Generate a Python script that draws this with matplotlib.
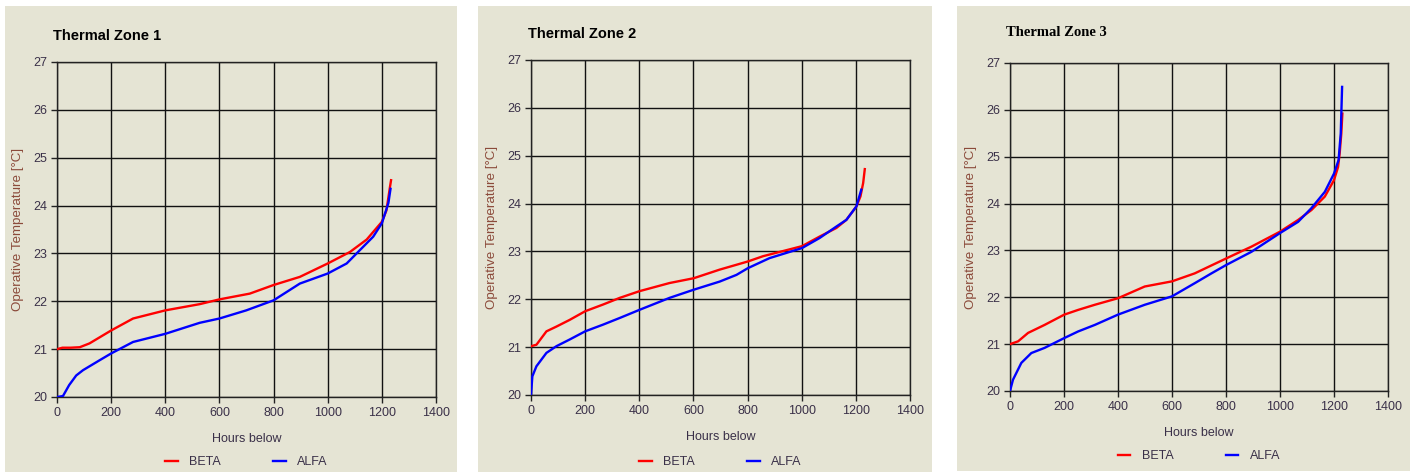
import numpy as np
import matplotlib.pyplot as plt
from matplotlib.patches import Rectangle

# hours below (x) and operative temperature (y)
z1_beta_h = [0, 20, 50, 84, 120, 200, 281, 400, 527, 600, 712, 800, 897, 1000, 1082, 1144, 1200, 1217, 1230, 1234]
z1_beta_t = [21.0, 21.03, 21.03, 21.04, 21.12, 21.39, 21.64, 21.81, 21.94, 22.04, 22.16, 22.34, 22.51, 22.79, 23.03, 23.29, 23.66, 23.9, 24.39, 24.53]
z1_alfa_h = [0, 22, 45, 71, 96, 158, 200, 281, 400, 527, 600, 699, 800, 897, 1000, 1070, 1119, 1168, 1200, 1224, 1232]
z1_alfa_t = [20.0, 20.02, 20.25, 20.45, 20.56, 20.77, 20.91, 21.15, 21.32, 21.55, 21.64, 21.81, 22.02, 22.37, 22.58, 22.79, 23.07, 23.35, 23.63, 24.05, 24.35]

z2_beta_h = [0, 20, 57, 94, 143, 200, 266, 328, 401, 512, 601, 697, 801, 857, 1001, 1066, 1128, 1165, 1202, 1217, 1227, 1233]
z2_beta_t = [21.02, 21.05, 21.33, 21.43, 21.57, 21.75, 21.89, 22.03, 22.17, 22.34, 22.44, 22.62, 22.79, 22.9, 23.11, 23.31, 23.49, 23.66, 23.94, 24.15, 24.43, 24.72]
z2_alfa_h = [0, 5, 20, 57, 94, 143, 200, 266, 328, 401, 512, 601, 697, 759, 801, 881, 1001, 1066, 1128, 1165, 1202, 1220]
z2_alfa_t = [20.0, 20.39, 20.6, 20.88, 21.02, 21.16, 21.33, 21.47, 21.61, 21.78, 22.03, 22.2, 22.37, 22.51, 22.65, 22.86, 23.07, 23.28, 23.52, 23.66, 23.94, 24.29]

z3_beta_h = [0, 30, 67, 128, 201, 252, 314, 400, 499, 600, 684, 801, 894, 1000, 1067, 1116, 1166, 1200, 1215, 1221, 1227, 1231]
z3_beta_t = [21.0, 21.06, 21.24, 21.41, 21.63, 21.73, 21.84, 21.98, 22.23, 22.34, 22.51, 22.83, 23.08, 23.4, 23.65, 23.86, 24.15, 24.5, 24.78, 25.07, 25.49, 25.92]
z3_alfa_h = [0, 11, 42, 79, 128, 201, 252, 314, 400, 499, 600, 684, 746, 801, 894, 1000, 1067, 1116, 1166, 1200, 1217, 1225, 1230]
z3_alfa_t = [20.0, 20.24, 20.6, 20.81, 20.92, 21.13, 21.27, 21.41, 21.63, 21.84, 22.02, 22.3, 22.51, 22.69, 22.97, 23.37, 23.61, 23.9, 24.25, 24.64, 24.93, 25.5, 26.49]

titles = ["Thermal Zone 1", "Thermal Zone 2", "Thermal Zone 3"]
series = [
    (z1_beta_h, z1_beta_t, z1_alfa_h, z1_alfa_t),
    (z2_beta_h, z2_beta_t, z2_alfa_h, z2_alfa_t),
    (z3_beta_h, z3_beta_t, z3_alfa_h, z3_alfa_t),
]

W, H = 1413, 472
BG = "#e5e4d4"
TXT = "#3a3048"

# panel boxes and axes boxes in pixels: (left, top, right, bottom)
panels = [(5, 6, 457, 472), (478, 6, 932, 472), (957, 6, 1410, 471)]
axboxes = [(57, 62, 436, 397), (531, 60, 910, 395), (1010, 63, 1388, 391)]
title_pos = [(53, 36), (528, 34), (1006, 32)]
legend_y = [462, 462, 456]

fig = plt.figure(figsize=(W / 100, H / 100), dpi=100, facecolor="white")

for i in range(3):
    l, t, r, b = panels[i]
    fig.patches.append(Rectangle((l / W, 1 - b / H), (r - l) / W, (b - t) / H,
                                 transform=fig.transFigure, facecolor=BG, edgecolor="none", zorder=-5))
    l, t, r, b = axboxes[i]
    ax = fig.add_axes([l / W, 1 - b / H, (r - l) / W, (b - t) / H])
    ax.set_zorder(2)
    ax.set_facecolor(BG)
    bh, bt, ah, at = series[i]
    ax.plot(bh, bt, color="#ff0000", lw=1.7, label="BETA", zorder=3)
    ax.plot(ah, at, color="#0000ff", lw=1.7, label="ALFA", zorder=3)
    ax.set_xlim(0, 1400)
    ax.set_ylim(20, 27)
    ax.set_xticks(np.arange(0, 1401, 200))
    ax.set_yticks(np.arange(20, 28, 1))
    ax.grid(True, color="#111111", lw=1.0)
    ax.set_axisbelow(True)
    for s in ax.spines.values():
        s.set_color("#222222")
        s.set_linewidth(1.0)
    ax.tick_params(direction="out", length=4, width=1, color="#222222",
                   labelsize=9, labelcolor=TXT, pad=3)
    for lab in ax.get_xticklabels() + ax.get_yticklabels():
        lab.set_family("Liberation Sans")
    ax.set_xlabel("Hours below", fontsize=9, color=TXT, family="Liberation Sans", labelpad=10)
    ax.set_ylabel("Operative Temperature [°C]", fontsize=9.6, color="#8b4a3a",
                  family="Liberation Sans", labelpad=7)
    fam = "Liberation Serif" if i == 2 else "Liberation Sans"
    tx, ty = title_pos[i]
    fig.text(tx / W, 1 - ty / H, titles[i], fontsize=10.5, fontweight="bold",
             family=fam, color="black", va="center", ha="left")
    leg = ax.legend(loc="center", bbox_to_anchor=(0.5, -(legend_y[i] - b) / (b - t)), ncol=2,
                    frameon=False, handlelength=1.0, columnspacing=4.2, handletextpad=0.9,
                    borderpad=0, prop={"family": "Liberation Sans", "size": 9})
    for txt in leg.get_texts():
        txt.set_color(TXT)

fig.savefig("out.png", dpi=100, facecolor="white")
